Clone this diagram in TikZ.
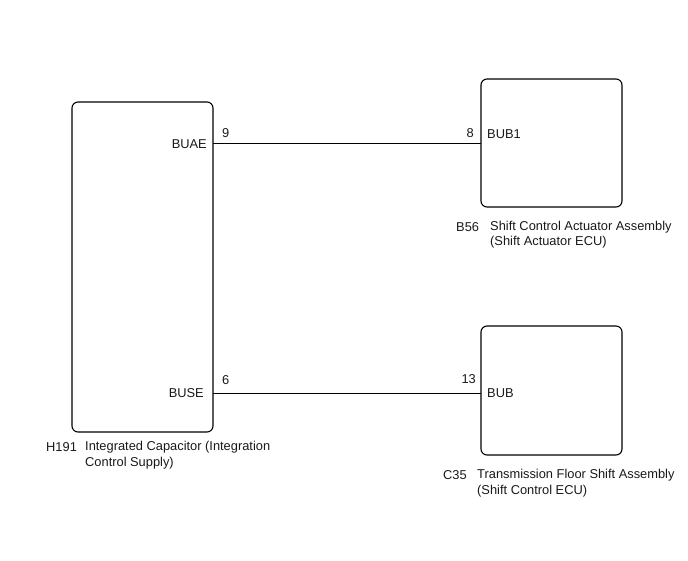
\documentclass[tikz,border=0pt]{standalone}
\usepackage{fontspec}
\setmainfont{Liberation Sans}
\begin{document}
\begin{tikzpicture}[x=1pt,y=-1pt,
  ecu/.style={draw,line width=1.1pt,rounded corners=6pt},
  wire/.style={draw,line width=0.6pt},
  txt/.style={inner sep=0pt,font=\fontsize{12.85}{15}\selectfont,text=black!90}]
\useasboundingbox (0,0) rectangle (688,560);
\draw[ecu] (72,102) rectangle (213,432);
\draw[ecu] (481,79) rectangle (622,207);
\draw[ecu] (481,326) rectangle (622,455);
\coordinate (L1) at (213,143);
\coordinate (R1) at (481,143);
\coordinate (L2) at (213,393);
\coordinate (R2) at (481,393);
\draw[wire] (L1) -- (R1);
\draw[wire] (L2) -- (R2);
\node[txt,anchor=east] (buae) at (207,144) {BUAE};
\node[txt,anchor=west] (p9) at (222,133) {9};
\node[txt,anchor=east] (p8) at (474,133) {8};
\node[txt,anchor=west] (bub1) at (487,134) {BUB1};
\node[txt,anchor=east] (buse) at (204,393) {BUSE};
\node[txt,anchor=west] (p6) at (222,380) {6};
\node[txt,anchor=east] (p13) at (476,379) {13};
\node[txt,anchor=west] (bub) at (487,393) {BUB};
\node[txt,anchor=west] (h191) at (46,447) {H191};
\node[txt,anchor=west] (h191a) at (85,447) {Integrated Capacitor (Integration};
\node[txt,anchor=west] (h191b) at (85,463) {Control Supply)};
\node[txt,anchor=west] (b56) at (456,227) {B56};
\node[txt,anchor=west] (b56a) at (490,227) {Shift Control Actuator Assembly};
\node[txt,anchor=west] (b56b) at (490,242) {(Shift Actuator ECU)};
\node[txt,anchor=west] (c35) at (443,475) {C35};
\node[txt,anchor=west] (c35a) at (477,475) {Transmission Floor Shift Assembly};
\node[txt,anchor=west] (c35b) at (477,491) {(Shift Control ECU)};
\end{tikzpicture}
\end{document}
